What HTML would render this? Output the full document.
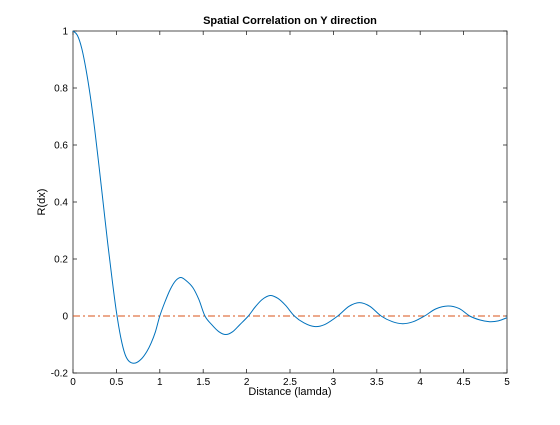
<!DOCTYPE html>
<html><head><meta charset="utf-8"><style>
body{margin:0;background:#fff;}
svg{font-family:"Liberation Sans",Arial,sans-serif;}
</style></head><body>
<svg id="chart" width="560" height="420">
<rect x="0" y="0" width="560" height="420" fill="#fff"/>
<text x="290" y="24" text-anchor="middle" font-size="11" font-weight="bold">Spatial Correlation on Y direction</text>
<rect x="73" y="31" width="434" height="342" fill="#fff" stroke="#262626" stroke-width="0.8"/>
<g id="axes"></g>
<text x="290" y="395" text-anchor="middle" font-size="11">Distance (lamda)</text>
<text x="0" y="0" text-anchor="middle" font-size="11" transform="translate(45,202) rotate(-90)">R(dx)</text>
<g id="marks"></g>
</svg>
<script>
const xVals=[0,0.05,0.1,0.15,0.2,0.25,0.3,0.35,0.4,0.45,0.5,0.55,0.6,0.65,0.72,0.79,0.85,0.9,0.95,1.0,1.06,1.12,1.18,1.24,1.3,1.38,1.45,1.52,1.6,1.68,1.76,1.84,1.92,2.02,2.1,2.18,2.27,2.36,2.45,2.55,2.66,2.78,2.9,3.05,3.18,3.3,3.42,3.55,3.68,3.8,3.92,4.05,4.18,4.32,4.45,4.57,4.69,4.8,4.9,5.0];
const yVals=[1,0.985,0.94,0.865,0.77,0.655,0.525,0.39,0.255,0.13,0.015,-0.075,-0.135,-0.16,-0.165,-0.15,-0.125,-0.095,-0.055,0.0,0.05,0.093,0.123,0.135,0.125,0.1,0.058,0.0,-0.031,-0.055,-0.065,-0.055,-0.031,0.0,0.032,0.058,0.072,0.062,0.037,0.0,-0.024,-0.037,-0.03,0.0,0.034,0.047,0.034,0.0,-0.02,-0.027,-0.02,0.0,0.025,0.035,0.026,0.0,-0.014,-0.02,-0.017,-0.006];
const xTicks=[0,0.5,1,1.5,2,2.5,3,3.5,4,4.5,5];
const xTickLabels=["0","0.5","1","1.5","2","2.5","3","3.5","4","4.5","5"];
const yTicks=[-0.2,0,0.2,0.4,0.6,0.8,1];
const yTickLabels=["-0.2","0","0.2","0.4","0.6","0.8","1"];
const refLevel=[0];
const NS="http://www.w3.org/2000/svg";
const L=73,R=507,T=31,B=373;
function sx(v){return L+(v-0)/(5-0)*(R-L);}
function sy(v){return B-(v+0.2)/1.2*(B-T);}
const axes=document.getElementById('axes');
const marks=document.getElementById('marks');
function mk(tag,attrs,parent){const e=document.createElementNS(NS,tag);for(const k in attrs)e.setAttribute(k,attrs[k]);parent.appendChild(e);return e;}
xTicks.forEach((v,i)=>{
 const x=sx(v);
 const t1=mk('line',{x1:x,x2:x,y1:B,y2:B-4,stroke:'#262626','stroke-width':0.8},axes);
 
 
 const t2=mk('line',{x1:x,x2:x,y1:T,y2:T+4,stroke:'#262626','stroke-width':0.8},axes);
 
 
 const lb=mk('text',{x:x,y:B+12,'text-anchor':'middle','font-size':10},axes);
 lb.textContent=xTickLabels[i];
 
 
});
yTicks.forEach((v,i)=>{
 const y=sy(v);
 const t1=mk('line',{x1:L,x2:L+4,y1:y,y2:y,stroke:'#262626','stroke-width':0.8},axes);
 
 
 const t2=mk('line',{x1:R,x2:R-4,y1:y,y2:y,stroke:'#262626','stroke-width':0.8},axes);
 
 
 const lb=mk('text',{x:L-5,y:y+3.5,'text-anchor':'end','font-size':10},axes);
 lb.textContent=yTickLabels[i];
 
 
});
refLevel.forEach(v=>{
 const ln=mk('line',{x1:sx(0),x2:sx(5),y1:sy(v),y2:sy(v),stroke:'#D95319','stroke-width':1,'stroke-dasharray':'7,3,2,3'},marks);
 
 
});
const pts=xVals.map((v,i)=>[sx(v),sy(yVals[i])]);
let d='M'+pts[0][0]+','+pts[0][1];
for(let i=0;i<pts.length-1;i++){
 const p0=pts[Math.max(0,i-1)],p1=pts[i],p2=pts[i+1],p3=pts[Math.min(pts.length-1,i+2)];
 const c1=[p1[0]+(p2[0]-p0[0])/6,p1[1]+(p2[1]-p0[1])/6];
 const c2=[p2[0]-(p3[0]-p1[0])/6,p2[1]-(p3[1]-p1[1])/6];
 d+=' C'+c1[0]+','+c1[1]+' '+c2[0]+','+c2[1]+' '+p2[0]+','+p2[1];
}
const path=mk('path',{d:d,fill:'none',stroke:'#0072BD','stroke-width':1},marks);


</script>
</body></html>
